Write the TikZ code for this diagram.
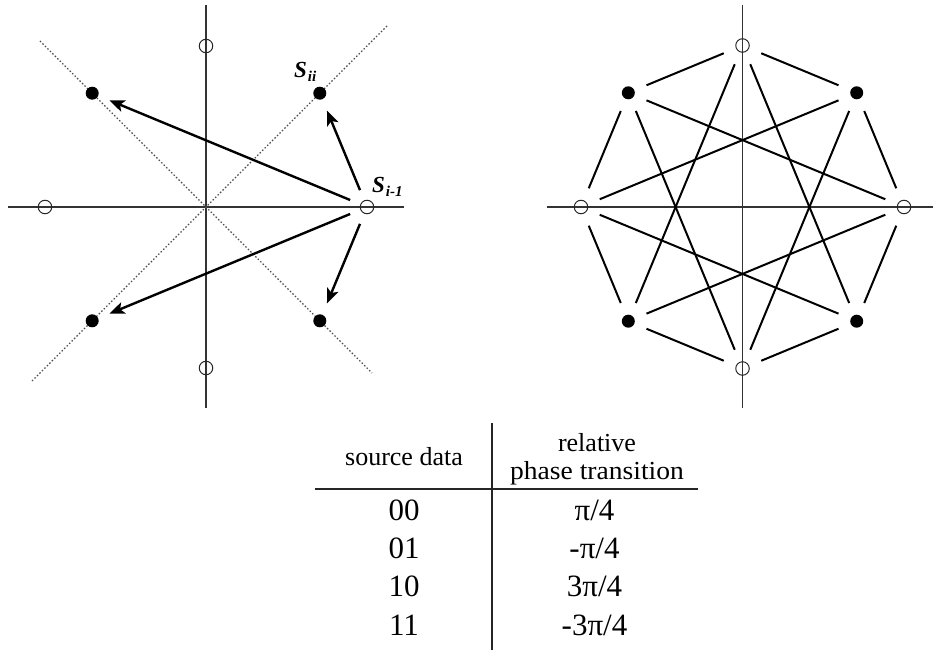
\documentclass[tikz,border=0pt]{standalone}
\usepackage{fontspec}
\setmainfont{Liberation Serif}
\usetikzlibrary{arrows.meta}
\begin{document}
\begin{tikzpicture}[x=1pt,y=-1pt,
  axis/.style={line width=1.3pt, draw=black!80},
  diag/.style={line width=1.1pt, draw=black!70, dash pattern=on 1.5pt off 2pt},
  openpt/.style={circle, draw=black!85, line width=1pt, minimum size=13.5pt, inner sep=0pt},
  fullpt/.style={circle, fill=black, minimum size=13pt, inner sep=0pt},
  arr/.style={line width=2.4pt, -{Stealth[length=15pt,width=12pt,inset=3.5pt]}, shorten <=11pt, shorten >=12pt},
  octedge/.style={line width=2pt, shorten <=13pt, shorten >=13pt},
  lbl/.style={inner sep=0pt, anchor=base west, font=\fontsize{23}{23}\selectfont\bfseries\itshape},
  sub/.style={inner sep=0pt, anchor=base west, font=\fontsize{15}{15}\selectfont\bfseries\itshape},
  hdr/.style={inner sep=0pt, anchor=base, font=\fontsize{26}{26}\selectfont},
  cell/.style={inner sep=0pt, anchor=base, font=\fontsize{31}{31}\selectfont},
  rule/.style={line width=1.7pt, draw=black!85}
]
\useasboundingbox (0,0) rectangle (933,650);

% ---------- left constellation ----------
\coordinate (LaW) at (8,207);
\coordinate (LaE) at (404,207);
\coordinate (LaN) at (206,5);
\coordinate (LaS) at (206,408);
\coordinate (LdUL) at (40,41);
\coordinate (LdLR) at (372,373);
\coordinate (LdUR) at (387,26);
\coordinate (LdLL) at (32,381);
\draw[axis] (LaW) -- (LaE);
\draw[axis] (LaN) -- (LaS);
\draw[diag] (LdUL) -- (LdLR);
\draw[diag] (LdUR) -- (LdLL);

\node[openpt] (Lt) at (206,46) {};
\node[openpt] (Lb) at (206,368) {};
\node[openpt] (Ll) at (45,207) {};
\node[openpt] (Lr) at (367,207) {};
\node[fullpt] (Lul) at (92.2,93.2) {};
\node[fullpt] (Lur) at (319.8,93.2) {};
\node[fullpt] (Lll) at (92.2,320.8) {};
\node[fullpt] (Llr) at (319.8,320.8) {};

\draw[arr] (Lr) -- (Lul);
\draw[arr] (Lr) -- (Lur);
\draw[arr] (Lr) -- (Lll);
\draw[arr] (Lr) -- (Llr);

\node[lbl] (Sii) at (294,78) {S};
\node[sub] (Siisub) at (Sii.base east) [xshift=0.5pt,yshift=-4pt] {ii};
\node[lbl] (Si1) at (372,192) {S};
\node[sub] (Si1sub) at (Si1.base east) [xshift=0.5pt,yshift=-4pt] {i-1};

% ---------- right constellation ----------
\coordinate (RaW) at (547,207);
\coordinate (RaE) at (933,207);
\coordinate (RaN) at (742.5,5);
\coordinate (RaS) at (742.5,408);
\draw[axis] (RaW) -- (RaE);
\draw[axis] (RaN) -- (RaS);

\node[openpt] (Rt) at (742.5,45.5) {};
\node[openpt] (Rb) at (742.5,368.5) {};
\node[openpt] (Rl) at (581,207) {};
\node[openpt] (Rr) at (904,207) {};
\node[fullpt] (Rul) at (628.3,92.8) {};
\node[fullpt] (Rur) at (856.7,92.8) {};
\node[fullpt] (Rll) at (628.3,321.2) {};
\node[fullpt] (Rlr) at (856.7,321.2) {};

% octagon edges
\draw[octedge] (Rt) -- (Rur);
\draw[octedge] (Rur) -- (Rr);
\draw[octedge] (Rr) -- (Rlr);
\draw[octedge] (Rlr) -- (Rb);
\draw[octedge] (Rb) -- (Rll);
\draw[octedge] (Rll) -- (Rl);
\draw[octedge] (Rl) -- (Rul);
\draw[octedge] (Rul) -- (Rt);
% star edges
\draw[octedge] (Rr) -- (Rul);
\draw[octedge] (Rur) -- (Rl);
\draw[octedge] (Rt) -- (Rll);
\draw[octedge] (Rul) -- (Rb);
\draw[octedge] (Rl) -- (Rlr);
\draw[octedge] (Rll) -- (Rr);
\draw[octedge] (Rb) -- (Rur);
\draw[octedge] (Rlr) -- (Rt);

% ---------- table ----------
\coordinate (Tv1) at (491.7,423);
\coordinate (Tv2) at (491.7,650);
\coordinate (Th1) at (315,489);
\coordinate (Th2) at (698,489);
\draw[rule] (Tv1) -- (Tv2);
\draw[rule] (Th1) -- (Th2);

\node[hdr] (h1) at (404,465.7) {source data};
\node[hdr] (h2a) at (597,451.7) {relative};
\node[hdr, xscale=1.06] (h2b) at (597,479) {phase transition};

\node[cell] (c00) at (404,520) {00};
\node[cell] (c01) at (404,558.3) {01};
\node[cell] (c10) at (404,596.7) {10};
\node[cell] (c11) at (404,635) {11};
\node[cell] (p00) at (594.5,520) {π/4};
\node[cell] (p01) at (594.5,558.3) {-π/4};
\node[cell] (p10) at (594.5,596.7) {3π/4};
\node[cell] (p11) at (594.5,635) {-3π/4};
\end{tikzpicture}
\end{document}
